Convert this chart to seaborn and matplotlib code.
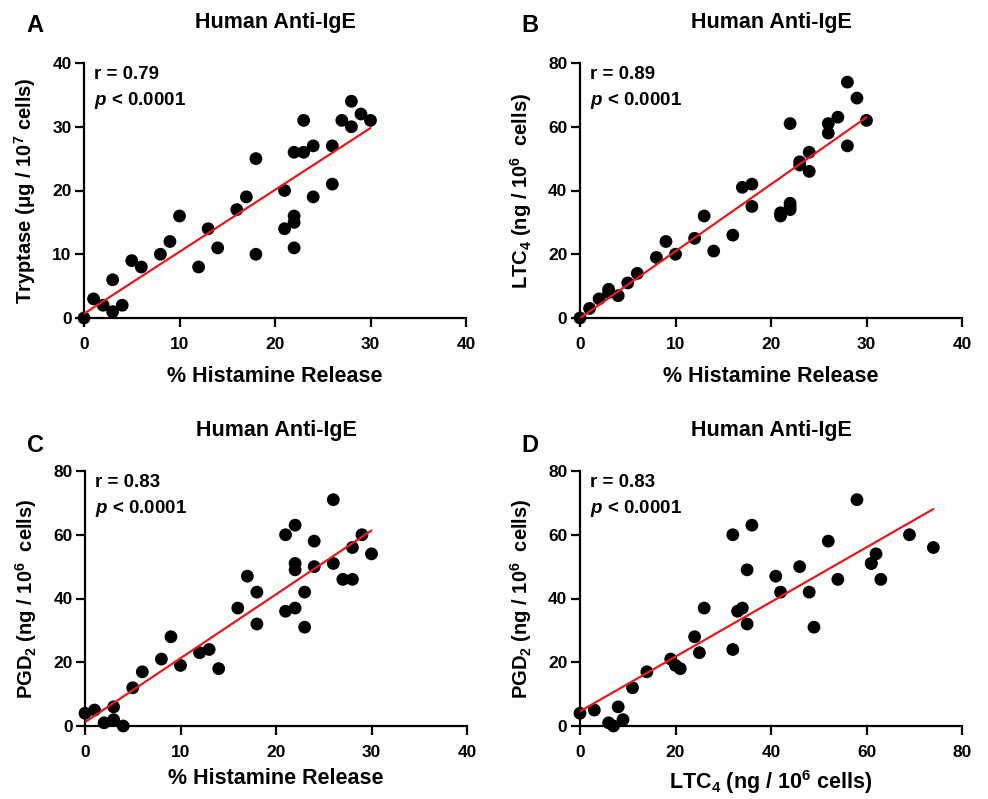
import matplotlib
matplotlib.use('Agg')
import matplotlib.pyplot as plt
import numpy as np
import pandas as pd
import seaborn as sns

# one row per subject
histamine = [0, 1, 2, 3, 3, 4, 5, 6, 8, 9, 10, 12, 13, 14, 16, 17, 18, 18,
             21, 21, 22, 22, 22, 22, 23, 23, 24, 24, 26, 26, 27, 28, 28, 29, 30]
tryptase = [0, 3, 2, 6, 1, 2, 9, 8, 10, 12, 16, 8, 14, 11, 17, 19, 25, 10,
            20, 14, 26, 16, 15, 11, 31, 26, 27, 19, 27, 21, 31, 34, 30, 32, 31]
ltc4 = [0, 3, 6, 8, 9, 7, 11, 14, 19, 24, 20, 25, 32, 21, 26, 41, 42, 35,
        32, 33, 61, 36, 35, 34, 48, 49, 52, 46, 61, 58, 63, 74, 54, 69, 62]
pgd2 = [4, 5, 1, 6, 2, 0, 12, 17, 21, 28, 19, 23, 24, 18, 37, 47, 42, 32,
        60, 36, 51, 63, 49, 37, 42, 31, 58, 50, 51, 71, 46, 56, 46, 60, 54]

df = pd.DataFrame({'hist': histamine, 'tryptase': tryptase,
                   'ltc4': ltc4, 'pgd2': pgd2})

sns.set_style('ticks')
plt.rcParams['font.family'] = ['Liberation Sans', 'DejaVu Sans']
plt.rcParams['font.weight'] = 'bold'
plt.rcParams['text.color'] = 'black'
plt.rcParams['axes.labelcolor'] = 'black'
plt.rcParams['mathtext.fontset'] = 'custom'
plt.rcParams['mathtext.rm'] = 'Liberation Sans:bold'
plt.rcParams['mathtext.bf'] = 'Liberation Sans:bold'
plt.rcParams['mathtext.it'] = 'Liberation Sans:bold:italic'

panels = [
    ('A', 'hist', 'tryptase', r'Tryptase ($\mathrm{\mu}$g / 10$^{7}$ cells)',
     '% Histamine Release', 40, 40, 10, '0.79'),
    ('B', 'hist', 'ltc4', r'LTC$_{4}$ (ng / 10$^{6}$  cells)',
     '% Histamine Release', 40, 80, 20, '0.89'),
    ('C', 'hist', 'pgd2', r'PGD$_{2}$ (ng / 10$^{6}$  cells)',
     '% Histamine Release', 40, 80, 20, '0.83'),
    ('D', 'ltc4', 'pgd2', r'PGD$_{2}$ (ng / 10$^{6}$  cells)',
     r'LTC$_{4}$ (ng / 10$^{6}$ cells)', 80, 80, 20, '0.83'),
]

W, H = 988, 799
boxes = [(84, 318), (580, 318), (85, 726), (580, 726)]
letter_pos = [(35, 26), (530, 26), (35, 446), (530, 446)]
xlabel_y = [-0.19, -0.19, -0.165, -0.165]
aw, ah = 382, 255

fig = plt.figure(figsize=(W / 100, H / 100), dpi=100)

for (letter, xc, yc, ylab, xlab, xmax, ymax, ystep, r), (x0, yb), (lx, ly), xly in zip(
        panels, boxes, letter_pos, xlabel_y):
    ax = fig.add_axes([x0 / W, (H - yb) / H, aw / W, ah / H])
    sns.regplot(data=df, x=xc, y=yc, ax=ax, ci=None,
                scatter_kws=dict(s=85, color='black', edgecolor='none',
                                 alpha=1, clip_on=False, zorder=3),
                line_kws=dict(color='#e8191c', lw=1.6, zorder=4))
    ax.set_xlim(0, xmax)
    ax.set_ylim(0, ymax)
    ax.set_xticks(np.arange(0, xmax + 1, xmax // 4))
    ax.set_yticks(np.arange(0, ymax + 1, ystep))
    sns.despine(ax=ax)
    for s in ['left', 'bottom']:
        ax.spines[s].set_linewidth(1.6)
        ax.spines[s].set_color('black')
    ax.tick_params(width=1.6, length=6.5, labelsize=12.5, colors='black')
    ax.tick_params(axis='x', pad=7)
    ax.tick_params(axis='y', pad=2.5)
    for lab in ax.get_xticklabels() + ax.get_yticklabels():
        lab.set_fontweight('bold')
    ax.set_xlabel(xlab, fontsize=15.5, fontweight='bold')
    ax.set_ylabel(ylab, fontsize=14.5, fontweight='bold')
    ax.xaxis.set_label_coords(0.5, xly)
    ax.yaxis.set_label_coords(-0.12, 0.5)
    ax.set_title('Human Anti-IgE', fontsize=15.5, fontweight='bold', pad=25)
    ax.text(0.025, 0.953, 'r = ' + r, transform=ax.transAxes, fontsize=13.5,
            fontweight='bold', va='center')
    ax.text(0.025, 0.851, r'$\mathit{p}$ < 0.0001', transform=ax.transAxes,
            fontsize=13.5, fontweight='bold', va='center')
    fig.text(lx / W, 1 - ly / H, letter, fontsize=17, fontweight='bold',
             va='center', ha='center')

fig.savefig('out.png', dpi=100)
